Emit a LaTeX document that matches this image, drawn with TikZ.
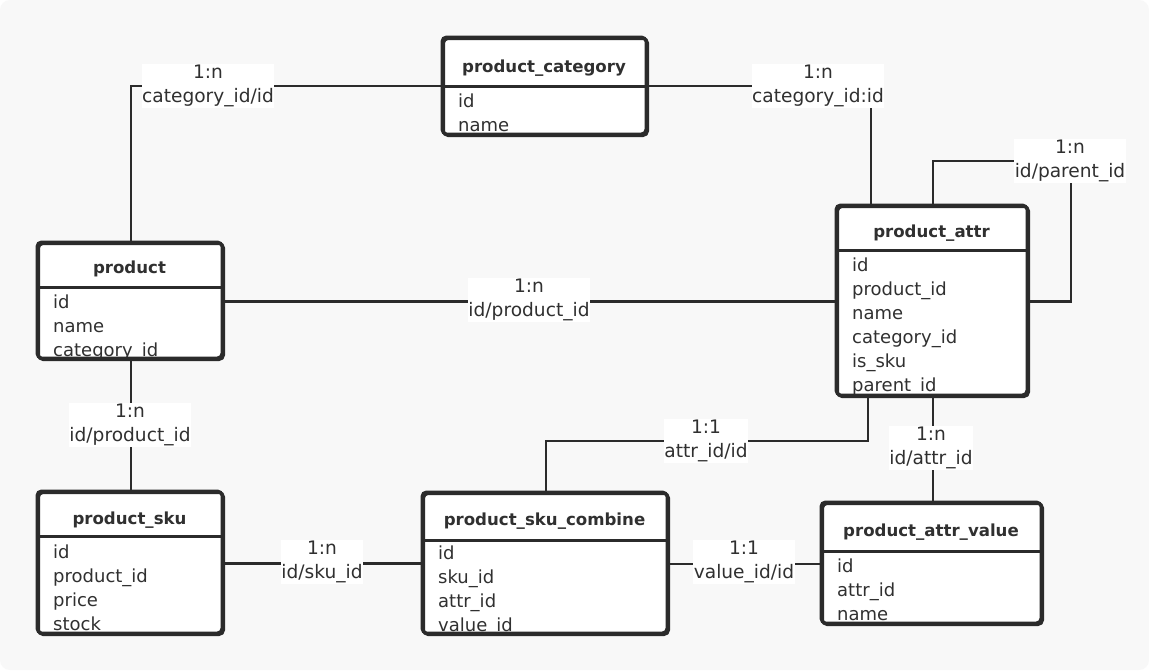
\documentclass[tikz,border=0pt]{standalone}
\usepackage{fontspec}
\setmainfont{DejaVu Sans}
\usetikzlibrary{calc}

\definecolor{ink}{HTML}{2B2B2B}
\definecolor{txt}{HTML}{303030}
\definecolor{paper}{HTML}{F8F8F8}

\tikzset{
  tblbox/.style={draw=ink, line width=3pt, fill=white, rounded corners=4.5pt, inner sep=0pt},
  tblline/.style={draw=ink, line width=3pt},
  conn/.style={draw=ink, line width=2.9pt},
  fieldtxt/.style={anchor=base west, inner sep=0pt, text=txt, font=\fontsize{18}{24}\selectfont},
  titletxt/.style={anchor=base, inner sep=0pt, text=txt, font=\fontsize{16.6}{20}\selectfont\bfseries},
  rel/.style={fill=white, text=txt, inner xsep=0.5pt, inner ysep=1.5pt, align=center,
              font=\fontsize{18.6}{23.5}\selectfont},
}

% table: name, x1, y1, x2, y2, header bottom, title, title baseline, fields
% (\fieldbase holds the baseline of the first field)
\newcommand\ertable[9]{%
  \node[tblbox, minimum width={#4-#2}, minimum height={#5-#3}, anchor=north west] (#1) at (#2,#3) {};
  \coordinate (#1-sepw) at (#2,#6);
  \coordinate (#1-sepe) at (#4,#6);
  \node[titletxt] (#1-title) at ({(#2+#4)/2},#8) {#7};
  \ertablefields{#1}{#2}{#3}{#4}{#5}{#6}{#9}%
}
\newcommand\ertablefields[7]{%
  \begin{scope}
    \clip[rounded corners=4.5pt] (#2,#3) rectangle (#4,#5);
    \foreach \f [count=\i from 0] in {#7}
      \node[fieldtxt] (#1-f\i) at (#2+16, \fieldbase+24*\i) {\f};
  \end{scope}
  \draw[tblline] (#2,#6) -- (#4,#6);
  \draw[tblline, rounded corners=4.5pt] (#2,#3) rectangle (#4,#5);
}

\begin{document}
\begin{tikzpicture}[x=1pt, y=-1pt]
  \useasboundingbox (0,0) rectangle (1149,670);
  \fill[white] (0,0) rectangle (1149,670);
  \fill[paper, rounded corners=10pt] (0,0) rectangle (1149,670);

  % bend points of the routed relations
  \coordinate (loopTop) at (1071,161);
  \coordinate (attrCorner) at (868,441);

  % tables
  \def\fieldbase{107.5}
  \ertable{cat}{442}{37}{646}{134}{86}{product\_category}{72.7}
    {id, name}
  \def\fieldbase{308}
  \ertable{prod}{37}{242}{222}{358}{287}{product}{273.5}
    {id, name, category\_id}
  \def\fieldbase{271.5}
  \ertable{attr}{836}{205}{1027}{395}{250}{product\_attr}{237.5}
    {id, product\_id, name, category\_id, is\_sku, parent\_id}
  \def\fieldbase{558.5}
  \ertable{sku}{37}{491}{222}{633}{536}{product\_sku}{524}
    {id, product\_id, price, stock}
  \def\fieldbase{559.5}
  \ertable{comb}{422}{492}{667}{633}{540}{product\_sku\_combine}{525.5}
    {id, sku\_id, attr\_id, value\_id}
  \def\fieldbase{572.5}
  \ertable{val}{821}{502}{1041}{623}{551}{product\_attr\_value}{536.5}
    {id, attr\_id, name}

  % relations
  \draw[conn] (cat-sepw) -| (prod.north);
  \draw[conn] (cat-sepe) -| ($(attr.north west)+(35,0)$);
  \draw[conn] (attr.north) |- (loopTop) |- (attr.east);
  \draw[conn] (prod.east) -- (attr.west);
  \draw[conn] (prod.south) -- (sku.north);
  \draw[conn] (sku.east) -- (sku.east -| comb.west);
  \draw[conn] (comb.north) |- (attrCorner) -- (attrCorner |- attr.south);
  \draw[conn] (comb.east) -- (comb.east -| val.west);
  \draw[conn] (attr.south) -- (attr.south |- val.north);

  % relation labels
  \node[rel] (r1) at (208,86)   {1:n\\category\_id/id};
  \node[rel] (r2) at (818,86)   {1:n\\category\_id:id};
  \node[rel] (r3) at (1070,161) {1:n\\id/parent\_id};
  \node[rel] (r4) at (529,300)  {1:n\\id/product\_id};
  \node[rel] (r5) at (130,425)  {1:n\\id/product\_id};
  \node[rel] (r6) at (322,562)  {1:n\\id/sku\_id};
  \node[rel] (r7) at (706,441)  {1:1\\attr\_id/id};
  \node[rel] (r8) at (744,562)  {1:1\\value\_id/id};
  \node[rel] (r9) at (931,448)  {1:n\\id/attr\_id};
\end{tikzpicture}
\end{document}
